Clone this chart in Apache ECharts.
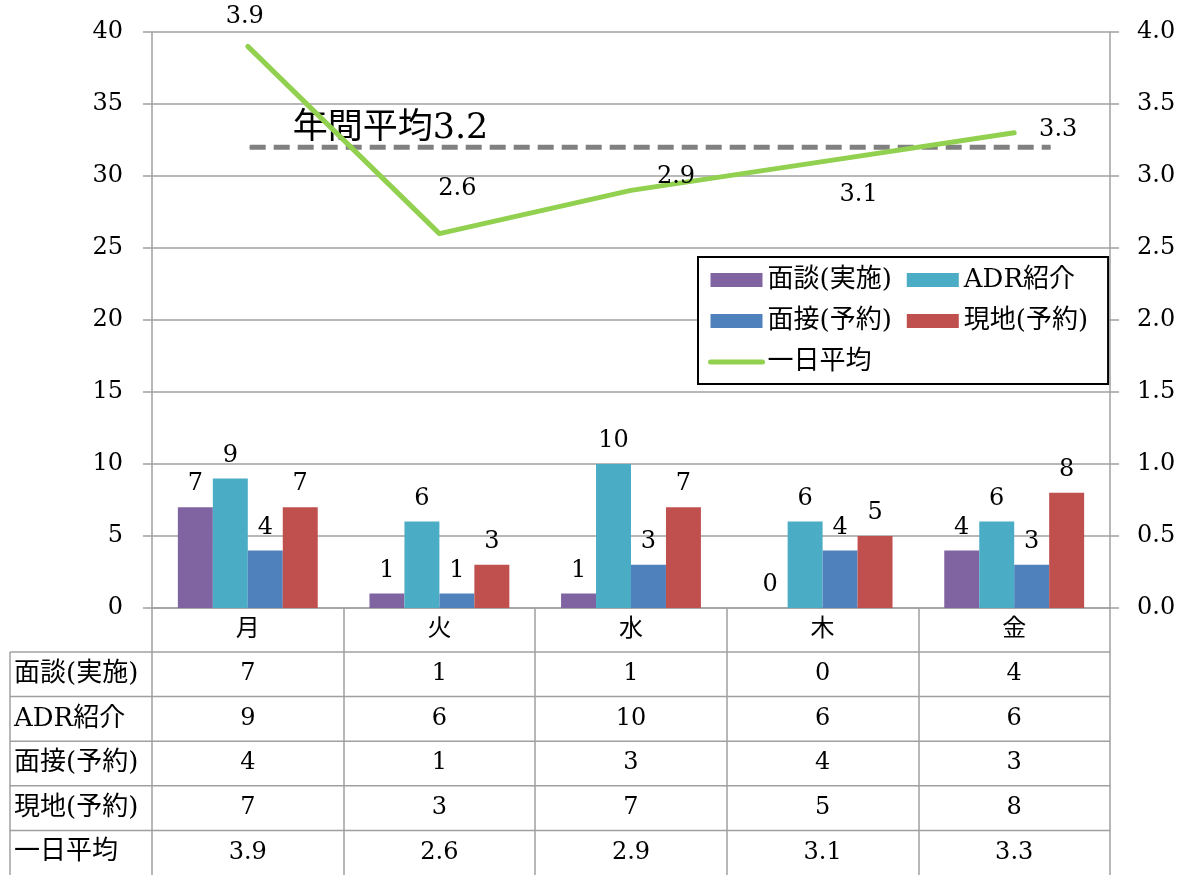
<!DOCTYPE html>
<html>
<head>
<meta charset="utf-8">
<script src="https://cdn.jsdelivr.net/npm/echarts@6/dist/echarts.min.js"></script>
<style>
  html, body { margin: 0; padding: 0; background: #fff; }
  #chart { width: 1184px; height: 875px; }
</style>
</head>
<body>
<div id="chart"></div>
<script>
// Weekly consultation counts by weekday, with the daily average on the right axis
const categories = ['月', '火', '水', '木', '金'];
const seriesNames = ['面談(実施)', 'ADR紹介', '面接(予約)', '現地(予約)', '一日平均'];
const mendanJisshi = [7, 1, 1, 0, 4];
const adrShokai = [9, 6, 10, 6, 6];
const mensetsuYoyaku = [4, 1, 3, 4, 3];
const genchiYoyaku = [7, 3, 7, 5, 8];
const dailyAvg = [3.9, 2.6, 2.9, 3.1, 3.3];
const annualAvg = 3.2;

// Styling / layout constants
const FONT = '"DejaVu Serif", "Noto Sans CJK JP", serif';
const NUM_SIZE = 24;
const CJK_SIZE = 26;
const GRID = { left: 152, right: 74, top: 32, bottom: 267 };
const CHART_W = 1184, CHART_H = 875;
const AXIS_Y = CHART_H - GRID.bottom;          // y of the category axis
const CAT_ROW_H = 44;                          // height of the weekday row
const ROW_H = (CHART_H - AXIS_Y - CAT_ROW_H) / 5;
const TABLE_LEFT = 10;
const TABLE_RIGHT = CHART_W - GRID.right;
const LINE_COLOR = '#a0a0a0';
const COLORS = ['#8064a2', '#4bacc6', '#4f81bd', '#c0504d', '#92d050'];
const avgSpan = [0.51, 4.69];                  // extent of the annual-average rule, in category units
const dailyLabelOffsets = [[-3, -30], [18, -45], [45, -14], [36, 33], [44, -3]];

const barValues = [mendanJisshi, adrShokai, mensetsuYoyaku, genchiYoyaku];
const tableRows = [mendanJisshi, adrShokai, mensetsuYoyaku, genchiYoyaku, dailyAvg];

const chart = echarts.init(document.getElementById('chart'), null, { renderer: 'canvas' });

const xAxes = [
  {
    type: 'category',
    data: categories,
    position: 'bottom',
    boundaryGap: true,
    axisLine: { lineStyle: { color: LINE_COLOR, width: 1.5 } },
    axisTick: { show: true, interval: 0, length: CHART_H - AXIS_Y, lineStyle: { color: LINE_COLOR, width: 1.5 } },
    axisLabel: { interval: 0, margin: 10, color: '#000', fontFamily: FONT, fontSize: 24 }
  },
  { type: 'value', min: 0, max: 5, show: false }
];
tableRows.forEach((row, k) => {
  xAxes.push({
    type: 'category',
    data: categories,
    position: 'bottom',
    offset: CAT_ROW_H + ROW_H * k,
    axisLine: { show: false },
    axisTick: { show: false },
    axisLabel: {
      interval: 0, margin: 10, color: '#000', fontFamily: FONT, fontSize: NUM_SIZE,
      formatter: (v, i) => String(row[i])
    }
  });
});

const barSeries = barValues.map((vals, i) => ({
  name: seriesNames[i],
  type: 'bar',
  xAxisIndex: 0,
  yAxisIndex: 0,
  data: vals,
  barGap: '0%',
  barCategoryGap: '27%',
  itemStyle: { color: COLORS[i] },
  label: { show: true, position: 'top', distance: 11, color: '#000', fontFamily: FONT, fontSize: NUM_SIZE }
}));

const lineSeries = {
  name: seriesNames[4],
  type: 'line',
  xAxisIndex: 0,
  yAxisIndex: 1,
  data: dailyAvg.map((v, i) => ({
    value: v,
    label: { offset: dailyLabelOffsets[i] }
  })),
  symbol: 'circle',
  symbolSize: 1,
  itemStyle: { color: COLORS[4] },
  lineStyle: { color: COLORS[4], width: 5, cap: 'round', join: 'round' },
  label: {
    show: true, position: 'inside', color: '#000', fontFamily: FONT, fontSize: NUM_SIZE,
    formatter: p => p.value.toFixed(1)
  },
  z: 5
};

const annualSeries = {
  name: '年間平均',
  type: 'line',
  xAxisIndex: 1,
  yAxisIndex: 1,
  data: [
    { value: [avgSpan[0], annualAvg], label: { show: true } },
    { value: [avgSpan[1], annualAvg] }
  ],
  symbol: 'circle',
  symbolSize: 1,
  itemStyle: { color: '#808080' },
  lineStyle: { color: '#808080', width: 5, type: [16, 8] },
  label: {
    show: false, position: 'top', align: 'left', distance: 0, offset: [43, 0],
    color: '#000', fontFamily: FONT, fontSize: 35,
    formatter: () => '年間平均' + annualAvg.toFixed(1)
  },
  z: 4
};

// Table grid lines and row headings
const graphics = [];
for (let k = 0; k < 5; k++) {
  const y = AXIS_Y + CAT_ROW_H + ROW_H * k;
  graphics.push({
    type: 'line', silent: true,
    shape: { x1: TABLE_LEFT, y1: y, x2: TABLE_RIGHT, y2: y },
    style: { stroke: LINE_COLOR, lineWidth: 1.5 }
  });
  graphics.push({
    type: 'text', silent: true,
    x: TABLE_LEFT + 4, y: y + ROW_H / 2,
    style: { text: seriesNames[k], fill: '#000', font: CJK_SIZE + 'px ' + FONT, textVerticalAlign: 'middle', textAlign: 'left' }
  });
}
graphics.push({
  type: 'line', silent: true,
  shape: { x1: TABLE_LEFT, y1: AXIS_Y + CAT_ROW_H, x2: TABLE_LEFT, y2: CHART_H },
  style: { stroke: LINE_COLOR, lineWidth: 1.5 }
});

const option = {
  backgroundColor: '#fff',
  animation: false,
  textStyle: { fontFamily: FONT },
  grid: GRID,
  legend: {
    data: [
      { name: seriesNames[0], icon: 'rect' },
      { name: seriesNames[1], icon: 'rect' },
      { name: seriesNames[2], icon: 'rect' },
      { name: seriesNames[3], icon: 'rect' },
      { name: seriesNames[4], itemStyle: { opacity: 0 }, lineStyle: { width: 5, cap: 'round' } }
    ],
    left: 698, top: 257, width: 400,
    orient: 'horizontal',
    padding: [10, 20, 9, 10],
    backgroundColor: '#fff',
    borderColor: '#000', borderWidth: 2,
    itemWidth: 52, itemHeight: 14, itemGap: 15,
    selectedMode: false,
    textStyle: { color: '#000', fontFamily: FONT, fontSize: CJK_SIZE, padding: [0, 5, 0, 0] }
  },
  xAxis: xAxes,
  yAxis: [
    {
      type: 'value', min: 0, max: 40, interval: 5, position: 'left',
      axisLine: { show: true, lineStyle: { color: LINE_COLOR, width: 1.5 } },
      axisTick: { show: true, length: 9, lineStyle: { color: LINE_COLOR, width: 1.5 } },
      axisLabel: { margin: 29, color: '#000', fontFamily: FONT, fontSize: NUM_SIZE },
      splitLine: { show: true, lineStyle: { color: LINE_COLOR, width: 1.5 } }
    },
    {
      type: 'value', min: 0, max: 4, interval: 0.5, position: 'right',
      axisLine: { show: true, lineStyle: { color: LINE_COLOR, width: 1.5 } },
      axisTick: { show: true, length: 9, lineStyle: { color: LINE_COLOR, width: 1.5 } },
      axisLabel: { margin: 27, color: '#000', fontFamily: FONT, fontSize: NUM_SIZE, formatter: v => v.toFixed(1) },
      splitLine: { show: false }
    }
  ],
  series: [...barSeries, annualSeries, lineSeries],
  graphic: graphics
};

chart.setOption(option);
</script>
</body>
</html>
